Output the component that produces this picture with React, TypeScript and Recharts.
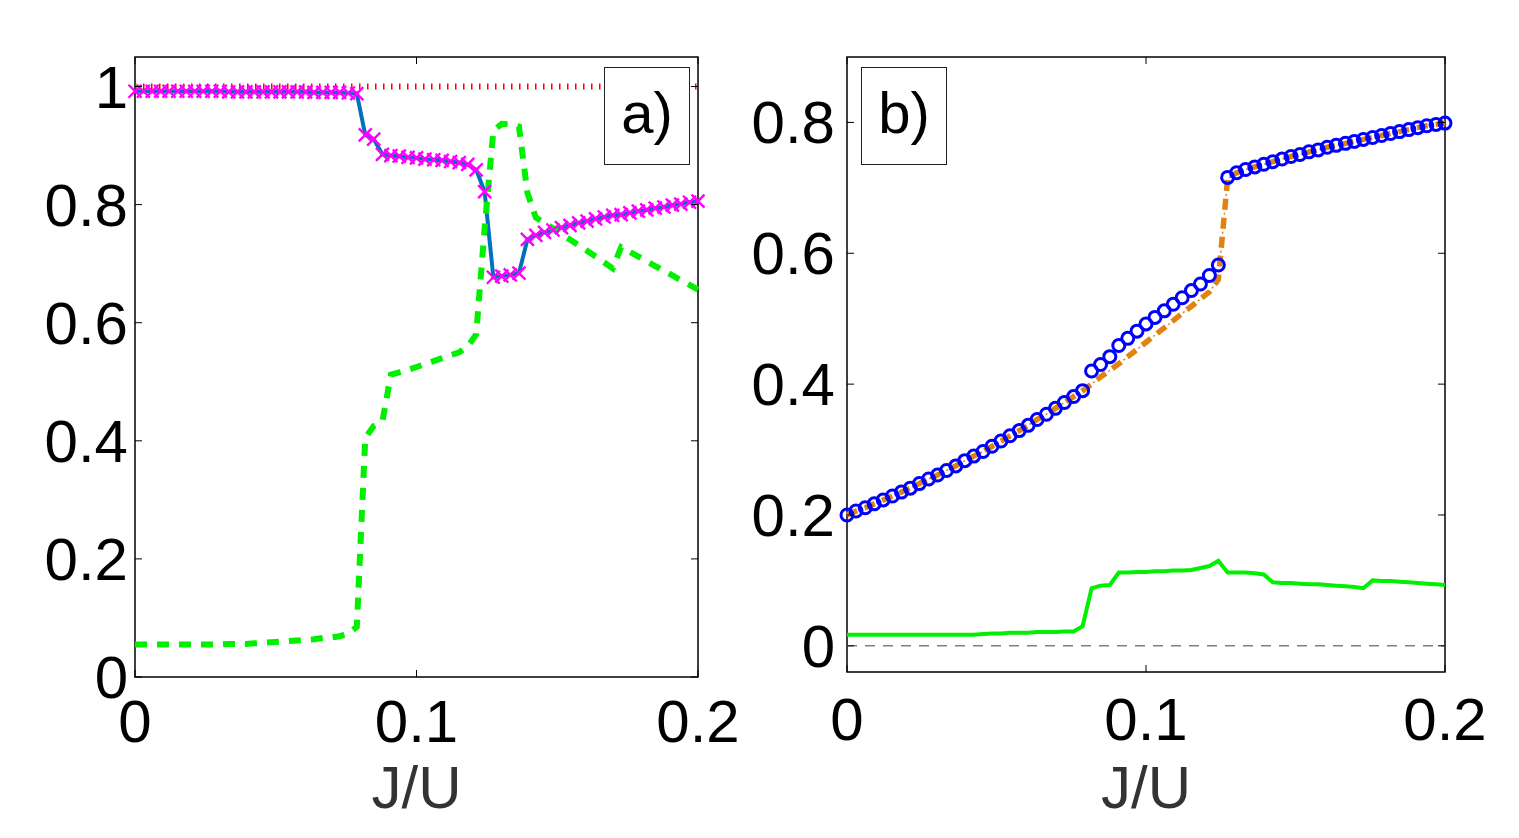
import { ComposedChart, Label, Line, ReferenceArea, ReferenceLine, XAxis, YAxis } from 'recharts'

const FONT = '"Liberation Sans", Arial, Helvetica, sans-serif'

// J/U grid shared by every curve (67 points from 0 to 0.2)
const J_U = [
  0, 0.0030, 0.0061, 0.0091, 0.0121, 0.0152, 0.0182, 0.0212, 0.0242, 0.0273,
  0.0303, 0.0333, 0.0364, 0.0394, 0.0424, 0.0455, 0.0485, 0.0515, 0.0545, 0.0576,
  0.0606, 0.0636, 0.0667, 0.0697, 0.0727, 0.0758, 0.0788, 0.0818, 0.0848, 0.0879,
  0.0909, 0.0939, 0.0970, 0.1000, 0.1030, 0.1061, 0.1091, 0.1121, 0.1152, 0.1182,
  0.1212, 0.1242, 0.1273, 0.1303, 0.1333, 0.1364, 0.1394, 0.1424, 0.1455, 0.1485,
  0.1515, 0.1545, 0.1576, 0.1606, 0.1636, 0.1667, 0.1697, 0.1727, 0.1758, 0.1788,
  0.1818, 0.1848, 0.1879, 0.1909, 0.1939, 0.1970, 0.2000
]

// panel a) solid blue curve with magenta crosses
const A_SOLID = [
  0.992, 0.992, 0.992, 0.992, 0.992, 0.992, 0.992, 0.992, 0.992, 0.992,
  0.992, 0.991, 0.991, 0.991, 0.991, 0.991, 0.991, 0.991, 0.991, 0.991,
  0.991, 0.990, 0.990, 0.990, 0.990, 0.989, 0.988, 0.918, 0.911, 0.885,
  0.883, 0.882, 0.880, 0.879, 0.877, 0.876, 0.875, 0.873, 0.871, 0.868,
  0.859, 0.822, 0.677, 0.679, 0.681, 0.684, 0.741, 0.748, 0.753, 0.757,
  0.761, 0.765, 0.769, 0.772, 0.776, 0.779, 0.782, 0.783, 0.786, 0.789,
  0.791, 0.794, 0.796, 0.799, 0.801, 0.804, 0.806
]

// panel a) green dashed curve
const A_DASHED = [
  0.055, 0.055, 0.055, 0.055, 0.055, 0.055, 0.055, 0.055, 0.055, 0.055,
  0.055, 0.056, 0.056, 0.056, 0.057, 0.058, 0.059, 0.060, 0.061, 0.062,
  0.063, 0.064, 0.066, 0.067, 0.069, 0.074, 0.085, 0.405, 0.425, 0.433,
  0.512, 0.516, 0.520, 0.525, 0.530, 0.535, 0.540, 0.545, 0.550, 0.560,
  0.580, 0.760, 0.925, 0.937, 0.936, 0.932, 0.820, 0.778, 0.769, 0.760,
  0.750, 0.741, 0.731, 0.722, 0.712, 0.702, 0.692, 0.728, 0.720, 0.712,
  0.704, 0.696, 0.688, 0.680, 0.672, 0.664, 0.656
]

// panel b) open blue circles
const B_CIRCLES = [
  0.200, 0.206, 0.211, 0.217, 0.223, 0.229, 0.235, 0.241, 0.248, 0.255,
  0.261, 0.268, 0.275, 0.283, 0.290, 0.297, 0.305, 0.313, 0.321, 0.329,
  0.337, 0.346, 0.354, 0.363, 0.372, 0.381, 0.390, 0.420, 0.430, 0.442,
  0.459, 0.470, 0.481, 0.492, 0.502, 0.512, 0.522, 0.532, 0.543, 0.553,
  0.566, 0.582, 0.716, 0.723, 0.728, 0.732, 0.736, 0.740, 0.744, 0.748,
  0.751, 0.755, 0.758, 0.762, 0.765, 0.768, 0.771, 0.774, 0.777, 0.780,
  0.783, 0.786, 0.789, 0.792, 0.795, 0.797, 0.799
]

// panel b) orange dash-dot curve
const B_DASHDOT = [
  0.200, 0.206, 0.211, 0.217, 0.223, 0.229, 0.235, 0.241, 0.248, 0.255,
  0.261, 0.268, 0.275, 0.283, 0.290, 0.297, 0.305, 0.313, 0.321, 0.329,
  0.337, 0.346, 0.354, 0.363, 0.372, 0.381, 0.390, 0.400, 0.411, 0.421,
  0.431, 0.442, 0.453, 0.464, 0.475, 0.486, 0.497, 0.508, 0.519, 0.530,
  0.541, 0.560, 0.714, 0.723, 0.728, 0.732, 0.736, 0.740, 0.744, 0.748,
  0.751, 0.755, 0.758, 0.762, 0.765, 0.768, 0.771, 0.774, 0.777, 0.780,
  0.783, 0.786, 0.789, 0.792, 0.795, 0.797, 0.799
]

// panel b) green solid curve
const B_GREEN = [
  0.017, 0.017, 0.017, 0.017, 0.017, 0.017, 0.017, 0.017, 0.017, 0.017,
  0.017, 0.017, 0.017, 0.017, 0.017, 0.018, 0.019, 0.019, 0.020, 0.020,
  0.020, 0.021, 0.021, 0.021, 0.022, 0.022, 0.030, 0.088, 0.092, 0.093,
  0.112, 0.112, 0.113, 0.113, 0.114, 0.114, 0.115, 0.115, 0.116, 0.119,
  0.122, 0.130, 0.112, 0.112, 0.112, 0.111, 0.109, 0.097, 0.096, 0.096,
  0.095, 0.094, 0.094, 0.093, 0.092, 0.091, 0.090, 0.088, 0.100, 0.099,
  0.099, 0.098, 0.097, 0.096, 0.095, 0.094, 0.093
]

const X_TICKS = [0, 0.1, 0.2]
const A_Y_TICKS = [0, 0.2, 0.4, 0.6, 0.8, 1]
const B_Y_TICKS = [0, 0.2, 0.4, 0.6, 0.8]

const rowsA = J_U.map((j, i) => ({ j, solid: A_SOLID[i], dashed: A_DASHED[i] }))
const rowsB = J_U.map((j, i) => ({ j, circles: B_CIRCLES[i], dashdot: B_DASHDOT[i], green: B_GREEN[i] }))

type Box = { left: number; right: number; top: number; bottom: number }

// labels outside the box, short inward ticks on both opposite sides
function yTick(b: Box, gap: number) {
  return (props: any) => {
    const { y, payload } = props
    return (
      <g>
        <line x1={b.left} x2={b.left + 7} y1={y} y2={y} stroke="#000" strokeWidth={1} />
        <line x1={b.right - 7} x2={b.right} y1={y} y2={y} stroke="#000" strokeWidth={1} />
        <text x={b.left - gap} y={y + 21} textAnchor="end" fontSize={60} fontFamily={FONT} fill="#000">
          {String(payload.value)}
        </text>
      </g>
    )
  }
}

function xTick(b: Box, baseline: number) {
  return (props: any) => {
    const { x, payload } = props
    return (
      <g>
        <line x1={x} x2={x} y1={b.bottom} y2={b.bottom - 7} stroke="#000" strokeWidth={1} />
        <line x1={x} x2={x} y1={b.top} y2={b.top + 7} stroke="#000" strokeWidth={1} />
        <text x={x} y={b.bottom + baseline} textAnchor="middle" fontSize={60} fontFamily={FONT} fill="#000">
          {String(payload.value)}
        </text>
      </g>
    )
  }
}

const crossDot = (props: any) => {
  const { cx, cy, index } = props
  const s = 6.5
  return (
    <path
      key={`x-${index}`}
      d={`M${cx - s},${cy - s}L${cx + s},${cy + s}M${cx - s},${cy + s}L${cx + s},${cy - s}`}
      stroke="#ff00ff"
      strokeWidth={2.4}
      fill="none"
    />
  )
}

function Tag({ left, text }: { left: number; text: string }) {
  return (
    <div
      style={{
        position: 'absolute',
        left,
        top: 67,
        width: 86,
        height: 98,
        boxSizing: 'border-box',
        border: '1px solid #222',
        background: '#fff',
        display: 'flex',
        alignItems: 'center',
        justifyContent: 'center',
        fontFamily: FONT,
        fontSize: 58,
        color: '#000',
        lineHeight: 1,
        paddingBottom: 6
      }}
    >
      {text}
    </div>
  )
}

function PanelA() {
  const W = 760
  const H = 838
  const box: Box = { left: 135, right: 698, top: 57, bottom: 677 }
  return (
    <ComposedChart
      width={W}
      height={H}
      data={rowsA}
      margin={{ top: box.top, right: W - box.right, left: box.left - 100, bottom: H - box.bottom - 131 }}
    >
      <XAxis
        dataKey="j"
        type="number"
        domain={[0, 0.2]}
        ticks={X_TICKS}
        interval={0}
        height={131}
        axisLine={false}
        tickLine={false}
        tick={xTick(box, 65)}
      >
        <Label value="J/U" position="insideBottom" offset={0} fontSize={60} fontFamily={FONT} fill="#333" />
      </XAxis>
      <YAxis
        type="number"
        domain={[0, 1.05]}
        ticks={A_Y_TICKS}
        interval={0}
        width={100}
        axisLine={false}
        tickLine={false}
        tick={yTick(box, 7)}
      />
      <ReferenceLine y={1} stroke="#ff0000" strokeWidth={6} strokeDasharray="1.5 6.5" />
      <Line dataKey="solid" type="linear" stroke="#0072bd" strokeWidth={4} dot={false} isAnimationActive={false} />
      <Line
        dataKey="dashed"
        type="linear"
        stroke="#00f000"
        strokeWidth={6}
        strokeDasharray="12 10"
        dot={false}
        isAnimationActive={false}
      />
      <Line dataKey="solid" type="linear" stroke="none" dot={crossDot} isAnimationActive={false} />
      <ReferenceArea x1={0} x2={0.2} y1={0} y2={1.05} fill="none" stroke="#000" strokeWidth={1.5} ifOverflow="visible" />
    </ComposedChart>
  )
}

function PanelB() {
  const W = 819
  const H = 838
  const box: Box = { left: 147, right: 745, top: 57, bottom: 672 }
  return (
    <ComposedChart
      width={W}
      height={H}
      data={rowsB}
      margin={{ top: box.top, right: W - box.right, left: box.left - 120, bottom: H - box.bottom - 136 }}
    >
      <XAxis
        dataKey="j"
        type="number"
        domain={[0, 0.2]}
        ticks={X_TICKS}
        interval={0}
        height={136}
        axisLine={false}
        tickLine={false}
        tick={xTick(box, 68)}
      >
        <Label value="J/U" position="insideBottom" offset={0} fontSize={60} fontFamily={FONT} fill="#333" />
      </XAxis>
      <YAxis
        type="number"
        domain={[-0.04, 0.9]}
        ticks={B_Y_TICKS}
        interval={0}
        width={120}
        axisLine={false}
        tickLine={false}
        tick={yTick(box, 12)}
      />
      <ReferenceLine y={0} stroke="#808080" strokeWidth={1.5} strokeDasharray="10 8" />
      <Line dataKey="green" type="linear" stroke="#00f000" strokeWidth={4} dot={false} isAnimationActive={false} />
      <Line
        dataKey="circles"
        type="linear"
        stroke="none"
        dot={{ r: 6, stroke: '#0000ff', strokeWidth: 3, fill: 'none' }}
        isAnimationActive={false}
      />
      {/* dash-dot: thick dashes plus thin dots in the gaps */}
      <Line
        dataKey="dashdot"
        type="linear"
        stroke="#e0830f"
        strokeWidth={5.5}
        strokeDasharray="11 8"
        dot={false}
        isAnimationActive={false}
      />
      <Line
        dataKey="dashdot"
        type="linear"
        stroke="#e0830f"
        strokeWidth={1.5}
        strokeDasharray="0 14 2 3"
        dot={false}
        isAnimationActive={false}
      />
      <ReferenceArea x1={0} x2={0.2} y1={-0.04} y2={0.9} fill="none" stroke="#000" strokeWidth={1.5} ifOverflow="visible" />
    </ComposedChart>
  )
}

export default function App() {
  return (
    <div style={{ position: 'absolute', left: 0, top: 0, width: 1519, height: 838, background: '#fff', overflow: 'hidden' }}>
      <div style={{ position: 'absolute', left: 0, top: 0 }}>
        <PanelA />
      </div>
      <div style={{ position: 'absolute', left: 700, top: 0 }}>
        <PanelB />
      </div>
      <Tag left={604} text="a)" />
      <Tag left={861} text="b)" />
    </div>
  )
}
